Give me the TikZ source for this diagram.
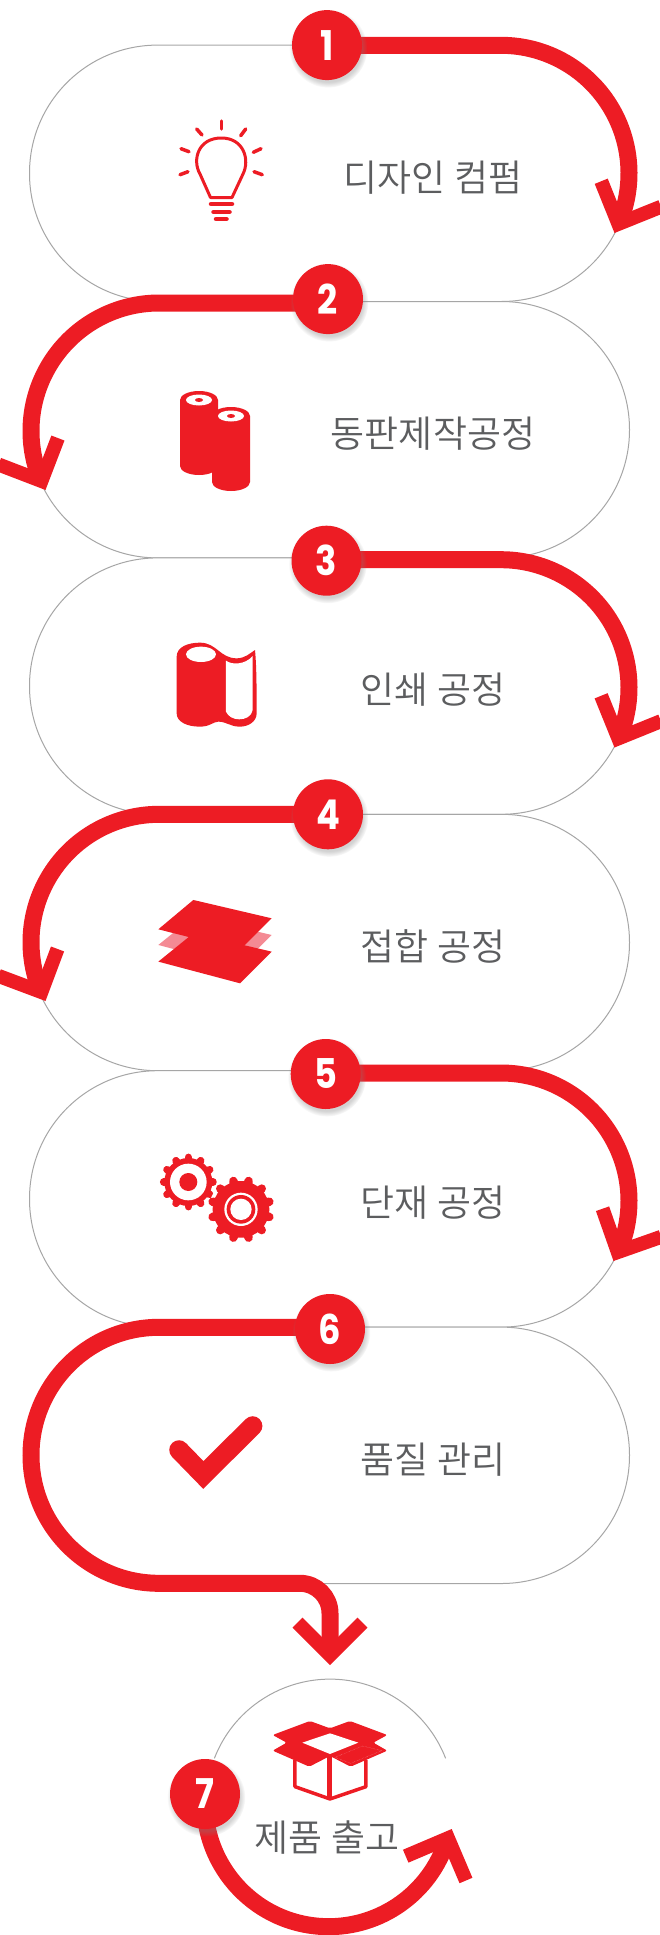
\documentclass[tikz,border=0pt]{standalone}
\usepackage{fontspec}
\newfontfamily\krfont{Noto Sans CJK KR}[UprightFont=* DemiLight]
\newfontfamily\numfont{Poppins}[UprightFont=* Bold, FakeStretch=0.86]
\usetikzlibrary{arrows.meta, positioning, shadows, backgrounds}
\definecolor{mainred}{HTML}{ED1C24}
\definecolor{palered}{HTML}{F48A94}
\definecolor{textgray}{HTML}{5C5D5F}
\definecolor{rimgray}{HTML}{A6A6A6}

\begin{document}
\begin{tikzpicture}[
  x=1pt, y=1pt,
  pill/.style={rectangle, draw=rimgray, line width=1pt, fill=white, rounded corners=128pt, minimum width=600pt, minimum height=256.4pt, inner sep=0pt, outer sep=0pt},
  num/.style={circle, fill=mainred, text=white, minimum size=70pt, inner sep=0pt, font=\numfont\fontsize{41}{41}\selectfont, circular drop shadow={shadow xshift=1pt, shadow yshift=-3pt, shadow scale=1.12, opacity=0.35}},
  title/.style={text=textgray, inner sep=0pt, font=\krfont\fontsize{37}{37}\selectfont},
  flow/.style={draw=mainred, line width=17pt, line cap=butt, -{Straight Barb[length=32.5pt, width=65pt, line width=14pt, line cap=butt, line join=miter, color=mainred]}},
  rim/.style={draw=rimgray, line width=1pt},
  thin icon/.style={draw=mainred, line cap=round, line width=3.5pt},
  sheet/.style={fill=mainred, draw=none}
]
\useasboundingbox (0,0) rectangle (660,-1935);

% Pills
\begin{pgfonlayer}{background}
\node[pill] (pill1) at (329.5,-173.3) {};
\node[pill, below=0pt of pill1] (pill2) {};
\node[pill, below=0pt of pill2] (pill3) {};
\node[pill, below=0pt of pill3] (pill4) {};
\node[pill, below=0pt of pill4] (pill5) {};
\node[pill, below=0pt of pill5] (pill6) {};
\draw[rim] (214.4,-1758.3) arc[start angle=158.8, end angle=21.2, radius=124];
\end{pgfonlayer}

% Numbers
\node[num] (num1) at ([xshift=-2.5pt]pill1.north) {1};
\node[num] (num2) at ([xshift=-1.5pt,yshift=2.4pt]pill2.north) {2};
\node[num] (num3) at ([xshift=-3pt,yshift=-2.8pt]pill3.north) {3};
\node[num] (num4) at ([xshift=-1.5pt]pill4.north) {4};
\node[num] (num5) at ([xshift=-3.8pt,yshift=-3.3pt]pill5.north) {5};
\node[num] (num6) at ([xshift=0.5pt,yshift=-1.9pt]pill6.north) {6};
\node[num] (num7) at (205,-1794) {7};

% Titles
\node[title] (title1) at ([xshift=103.5pt,yshift=-4pt]pill1.center) {디자인 컴펌};
\node[title] (title2) at ([xshift=103.5pt,yshift=-4pt]pill2.center) {동판제작공정};
\node[title] (title3) at ([xshift=103.5pt,yshift=-4pt]pill3.center) {인쇄 공정};
\node[title] (title4) at ([xshift=103.5pt,yshift=-4pt]pill4.center) {접합 공정};
\node[title] (title5) at ([xshift=103.5pt,yshift=-4pt]pill5.center) {단재 공정};
\node[title] (title6) at ([xshift=103.5pt,yshift=-4pt]pill6.center) {품질 관리};
\node[title] (title7) at (327,-1838) {제품 출고};

% Arrows
\coordinate (tip1) at (614.5,-233);
\coordinate (tip2) at (45.5,-490);
\coordinate (tip3) at (614.5,-747.5);
\coordinate (tip4) at (45.5,-1001);
\coordinate (tip5) at (613.5,-1261);
\coordinate (tip6) at (330,-1665);
\coordinate (tip7) at (451.7,-1829);
\begin{pgfonlayer}{background}
\draw[flow] ([yshift=-0.3pt]num1.center) -- (501,-45.3) arc[start angle=90, end angle=-20, radius=128] -- (tip1);
\draw[flow] ([yshift=-3.9pt]num2.center) -- (159,-303) arc[start angle=90, end angle=200, radius=128] -- (tip2);
\draw[flow] ([yshift=1pt]num3.center) -- (501,-559.7) arc[start angle=90, end angle=-20, radius=128] -- (tip3);
\draw[flow] (num4.center) -- (159,-814.3) arc[start angle=90, end angle=200, radius=128] -- (tip4);
\draw[flow] ([yshift=1pt]num5.center) -- (501,-1073) arc[start angle=90, end angle=-20, radius=128] -- (tip5);
\draw[flow] ([yshift=1.7pt]num6.center) -- (159,-1327.3) arc[start angle=90, end angle=270, radius=128] -- (300,-1583.3) arc[start angle=90, end angle=0, radius=30] -- (tip6);
\draw[flow] (num7.center) arc[start angle=176, end angle=340, radius=124] -- (tip7);
\end{pgfonlayer}

% Icons
% bulb
\draw[thin icon, line width=3pt, line join=round] (210.5,-197.5) -- (232,-197.5) -- (243,-174) .. controls (250,-160) and (244,-138) .. (221.3,-138) .. controls (198,-138) and (192,-160) .. (200,-174) -- cycle;
\draw[thin icon, line width=4.5pt] (211,-204) -- (232,-204);
\draw[thin icon, line width=4.5pt] (213.5,-212) -- (229.5,-212);
\draw[thin icon, line width=4.5pt] (216,-219) -- (226.5,-219);
\foreach \ax/\ay/\bx/\by in {221.3/121/221.3/129, 196.7/129/202/135, 245.7/129/240.7/135.7, 181/148.7/189/151.7, 261/148.7/253.3/152.3, 180/174.7/188/171.7, 262.3/174.7/254/171.7}
  \draw[thin icon] (\ax,-\ay) -- (\bx,-\by);

% rolls
\foreach \cx/\cy in {199/400, 231/416}{
  \fill[mainred] (\cx-19,-\cy) -- (\cx-19,-\cy-66) arc[start angle=180, end angle=360, x radius=19, y radius=9] -- (\cx+19,-\cy) arc[start angle=0, end angle=180, x radius=19, y radius=9] -- cycle;
  \fill[white] (\cx,-\cy) ellipse[x radius=13, y radius=5.5];
  \fill[mainred] (\cx,-\cy) ellipse[x radius=4, y radius=2];
}

% paper roll
\begin{scope}[shift={(130,-600)}, x=0.3333pt, y=-0.3333pt]
\fill[mainred] (140,170) .. controls (140,140) and (175,128) .. (210,128) .. controls (260,128) and (270,175) .. (320,175) .. controls (345,175) and (360,160) .. (375,150) .. controls (380,200) and (380,280) .. (380,340) .. controls (380,365) and (355,380) .. (330,380) .. controls (300,380) and (290,365) .. (265,365) .. controls (250,365) and (240,380) .. (210,380) .. controls (170,380) and (140,365) .. (140,340) -- cycle;
\fill[white] (213,163) ellipse[x radius=45, y radius=23];
\fill[white] (288,182) .. controls (305,195) and (345,195) .. (368,168) -- (368,330) .. controls (365,350) and (345,358) .. (328,358) .. controls (310,358) and (295,350) .. (288,335) -- cycle;
\end{scope}

% sheets
\begin{scope}[shift={(130,-600)}, x=0.3333pt, y=-0.3333pt]
\fill[palered] (190,950) -- (425,1005) -- (330,1100) -- (85,1035) -- cycle;
\fill[sheet] (190,1000) -- (425,1055) -- (330,1150) -- (85,1085) -- cycle;
\fill[sheet] (190,900) -- (425,955) -- (330,1050) -- (85,988) -- cycle;
\end{scope}

% gears
\begin{scope}[shift={(130,-1130)}, x=0.3333pt, y=-0.3333pt]
\fill[mainred] (175,156) circle[radius=72];
\foreach \a in {0,30,...,330}
  \draw[mainred, line width=7.5pt, line cap=round] (175,156) ++(\a:60) -- ++(\a:14);
\fill[white] (175,156) circle[radius=55];
\fill[mainred] (175,156) circle[radius=27];
\fill[white] (333,238) circle[radius=96];
\fill[mainred] (333,238) circle[radius=85];
\foreach \a in {15,45,...,345}
  \draw[mainred, line width=8.5pt, line cap=round] (333,238) ++(\a:70) -- ++(\a:18);
\fill[white] (333,238) circle[radius=50];
\fill[mainred] (333,238) circle[radius=43];
\fill[white] (333,238) circle[radius=32];
\end{scope}

% check
\begin{scope}[shift={(130,-1130)}, x=0.3333pt, y=-0.3333pt]
\draw[mainred, line width=19.5pt, line cap=round, line join=miter] (147,960) -- (220,1035) -- (368,888);
\end{scope}

% box
\begin{scope}[shift={(140,-1560)}, x=0.3333pt, y=-0.3333pt]
\draw[mainred, line width=3.5pt, line join=round] (465,600) -- (465,680) -- (570,717) -- (678,680) -- (678,600);
\draw[mainred, line width=5pt] (570,590) -- (570,717);
\fill[mainred, rounded corners=2pt] (398,525) -- (510,483) -- (570,505) -- (630,483) -- (742,525) -- (700,548) -- (742,572) -- (632,620) -- (570,588) -- (508,620) -- (398,572) -- (440,548) -- cycle;
\fill[white] (487,548) -- (570,520) -- (655,548) -- (570,582) -- cycle;
\draw[palered, line width=0.4pt, densely dotted] (585,592) -- (668,558) -- (725,572) -- (632,610) -- cycle;
\end{scope}

\end{tikzpicture}
\end{document}
